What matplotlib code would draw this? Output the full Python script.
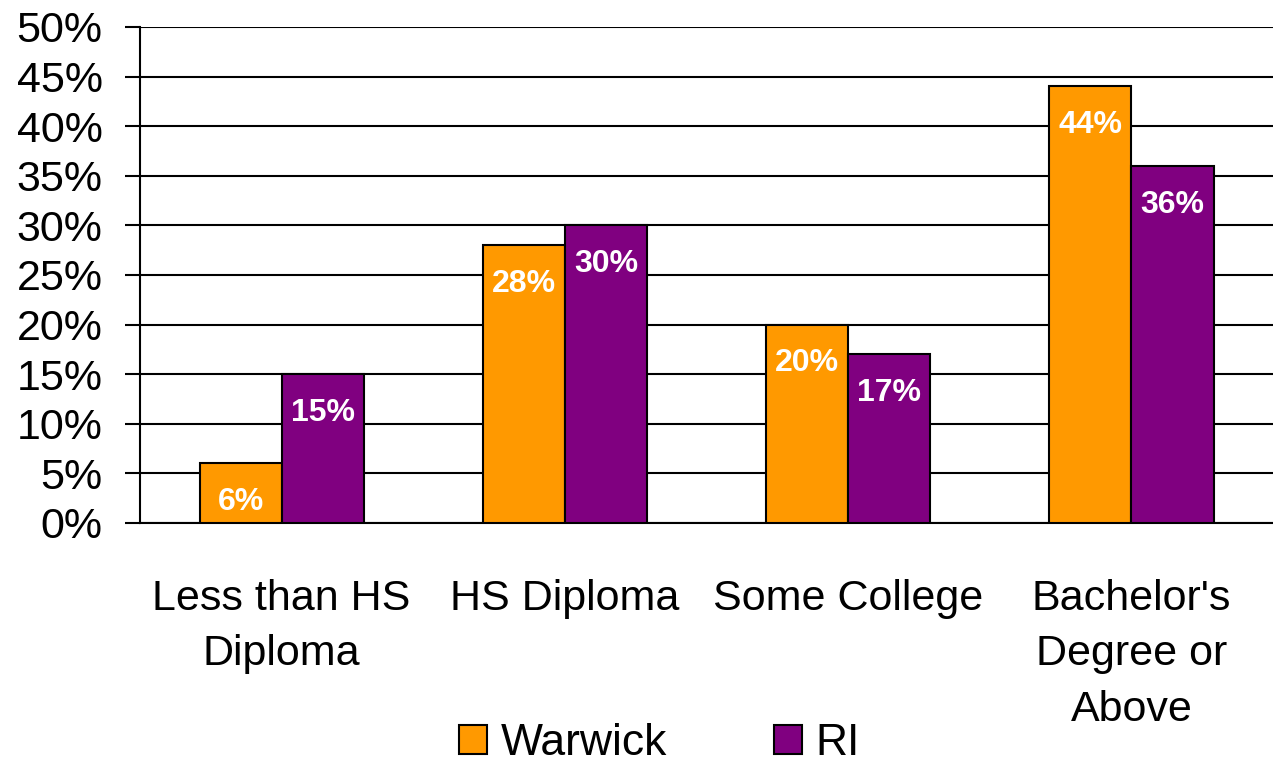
import numpy as np
import matplotlib
matplotlib.use("Agg")
import matplotlib.pyplot as plt
from matplotlib.patches import Patch

plt.rcParams["font.family"] = ["Liberation Sans", "DejaVu Sans"]

# Daten
kategorien = ["Less than HS\nDiploma", "HS Diploma", "Some College", "Bachelor's\nDegree or\nAbove"]
warwick = [6, 28, 20, 44]
ri = [15, 30, 17, 36]
farbe_warwick = "#FF9900"
farbe_ri = "#800080"

fig = plt.figure(figsize=(12.73, 7.64), dpi=100)
ax = fig.add_axes([0.110, 0.3155, 0.890, 0.6492])

x = np.arange(len(kategorien))
b = 0.29
bars_w = ax.bar(x - b / 2, warwick, b, color=farbe_warwick, edgecolor="black", linewidth=1.5, zorder=3)
bars_r = ax.bar(x + b / 2, ri, b, color=farbe_ri, edgecolor="black", linewidth=1.5, zorder=3)

# Werte in die Balken schreiben
for bars, vals in [(bars_w, warwick), (bars_r, ri)]:
    for rect, v in zip(bars, vals):
        ax.annotate(f"{v}%", (rect.get_x() + rect.get_width() / 2, v),
                    xytext=(0, -28), textcoords="offset points",
                    ha="center", va="center", color="white", fontsize=23, fontweight="bold", zorder=4)

ax.set_xlim(-0.5, 3.5)
ax.set_ylim(0, 50)
ax.set_yticks(np.arange(0, 51, 5))
ax.set_yticklabels([f"{t}%" for t in range(0, 51, 5)], fontsize=31)
ax.set_xticks(x)
ax.set_xticklabels(kategorien, fontsize=31, linespacing=1.5)
ax.tick_params(axis="x", length=0, pad=40)
ax.tick_params(axis="y", length=11, width=1.5, pad=16)

ax.grid(axis="y", color="black", linewidth=1.5, zorder=0)
for s in ["top", "right"]:
    ax.spines[s].set_visible(False)
ax.spines["left"].set_linewidth(1.5)
ax.spines["bottom"].set_linewidth(1.5)

handles = [Patch(facecolor=farbe_warwick, edgecolor="black", linewidth=1.5),
           Patch(facecolor=farbe_ri, edgecolor="black", linewidth=1.5)]
fig.legend(handles, ["Warwick", "RI"], loc="center", bbox_to_anchor=(0.518, 0.027),
           ncol=2, frameon=False, fontsize=32, handlelength=0.64, handleheight=0.64,
           handletextpad=0.3, columnspacing=2.4, borderpad=0)

fig.savefig("out.png", dpi=100)
